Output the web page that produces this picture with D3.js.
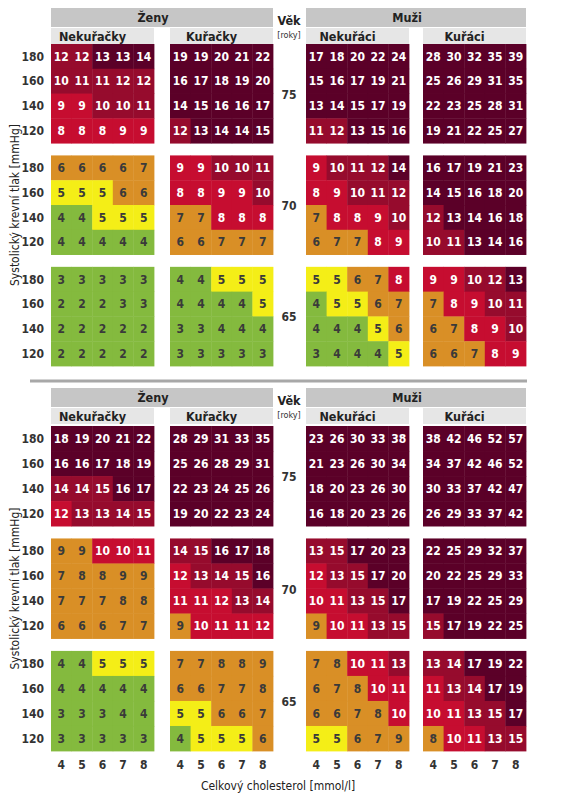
<!DOCTYPE html>
<html><head><meta charset="utf-8">
<script src="https://cdn.jsdelivr.net/npm/d3@7"></script>
<style>
body{margin:0;background:#fff;}
text{font-family:"DejaVu Sans",sans-serif;font-stretch:condensed;}
</style></head>
<body><svg id="c" width="572" height="800"></svg>
<script>
// ---------- data ----------
const ages = [75, 70, 65];
const sbp = [180, 160, 140, 120];
const chol = [4, 5, 6, 7, 8];
const sexes = ["Ženy", "Muži"];
const groups = ["Nekuřačky", "Kuřačky", "Nekuřáci", "Kuřáci"];
const colourBins = ["g", "y", "o", "r", "dr", "m"];
// thresholds for the colour classes (top panel, bottom panel)
const topThresholds = [5, 6, 8, 10, 13];
const bottomThresholds = [5, 6, 10, 13, 16];

// top panel — rows: age 75 (180..120), age 70, age 65; columns cholesterol 4..8
const topWomenNonSmokers = [
  [12,12,13,13,14],[10,11,11,12,12],[9,9,10,10,11],[8,8,8,9,9],
  [6,6,6,6,7],[5,5,5,6,6],[4,4,5,5,5],[4,4,4,4,4],
  [3,3,3,3,3],[2,2,2,3,3],[2,2,2,2,2],[2,2,2,2,2]];
const topWomenSmokers = [
  [19,19,20,21,22],[16,17,18,19,20],[14,15,16,16,17],[12,13,14,14,15],
  [9,9,10,10,11],[8,8,9,9,10],[7,7,8,8,8],[6,6,7,7,7],
  [4,4,5,5,5],[4,4,4,4,5],[3,3,4,4,4],[3,3,3,3,3]];
const topMenNonSmokers = [
  [17,18,20,22,24],[15,16,17,19,21],[13,14,15,17,19],[11,12,13,15,16],
  [9,10,11,12,14],[8,9,10,11,12],[7,8,8,9,10],[6,7,7,8,9],
  [5,5,6,7,8],[4,5,5,6,7],[4,4,4,5,6],[3,4,4,4,5]];
const topMenSmokers = [
  [28,30,32,35,39],[25,26,29,31,35],[22,23,25,28,31],[19,21,22,25,27],
  [16,17,19,21,23],[14,15,16,18,20],[12,13,14,16,18],[10,11,13,14,16],
  [9,9,10,12,13],[7,8,9,10,11],[6,7,8,9,10],[6,6,7,8,9]];

// bottom panel
const bottomWomenNonSmokers = [
  [18,19,20,21,22],[16,16,17,18,19],[14,14,15,16,17],[12,13,13,14,15],
  [9,9,10,10,11],[7,8,8,9,9],[7,7,7,8,8],[6,6,6,7,7],
  [4,4,5,5,5],[4,4,4,4,4],[3,3,3,4,4],[3,3,3,3,3]];
const bottomWomenSmokers = [
  [28,29,31,33,35],[25,26,28,29,31],[22,23,24,25,26],[19,20,22,23,24],
  [14,15,16,17,18],[12,13,14,15,16],[11,11,12,13,14],[9,10,11,11,12],
  [7,7,8,8,9],[6,6,7,7,8],[5,5,6,6,7],[4,5,5,5,6]];
const bottomMenNonSmokers = [
  [23,26,30,33,38],[21,23,26,30,34],[18,20,23,26,30],[16,18,20,23,26],
  [13,15,17,20,23],[12,13,15,17,20],[10,11,13,15,17],[9,10,11,13,15],
  [7,8,10,11,13],[6,7,8,10,11],[6,6,7,8,10],[5,5,6,7,9]];
const bottomMenSmokers = [
  [38,42,46,52,57],[34,37,42,46,52],[30,33,37,42,47],[26,29,33,37,42],
  [22,25,29,32,37],[20,22,25,29,33],[17,19,22,25,29],[15,17,19,22,25],
  [13,14,17,19,22],[11,13,14,17,19],[10,11,13,15,17],[8,10,11,13,15]];

const panels = [
  {blocks:[topWomenNonSmokers, topWomenSmokers, topMenNonSmokers, topMenSmokers], thr: topThresholds},
  {blocks:[bottomWomenNonSmokers, bottomWomenSmokers, bottomMenNonSmokers, bottomMenSmokers], thr: bottomThresholds}
];

// ---------- styling ----------
const palette = {g:"#84ba3e", y:"#f4ee17", o:"#d98f26", r:"#c60d30", dr:"#960b2d", m:"#5b0028"};
const darkText = new Set(["g","y","o"]);

const svg = d3.select("#c");
const blockLeft = d3.scaleOrdinal().domain(groups).range([51, 170, 306, 423]);
const blockW = 103;
const xCol = d3.scaleBand().domain(chol).range([0, blockW]);
const panelTop = [44, 426];
const panelBottom = [366, 751];
const headerTop = [8, 388];
const numFont = 12;

panels.forEach((p, pi) => {
  const yAge = d3.scaleBand().domain(ages).range([panelTop[pi], panelBottom[pi]]).paddingInner(0.11);
  const yRow = d3.scaleBand().domain(sbp).range([0, yAge.bandwidth()]);
  const cls = d3.scaleThreshold().domain(p.thr).range(colourBins);
  const g = svg.append("g");

  // headers
  const hT = headerTop[pi];
  sexes.forEach((s, si) => {
    const x0 = blockLeft(groups[si*2]), x1 = blockLeft(groups[si*2+1]) + blockW;
    g.append("rect").attr("x", x0).attr("y", hT).attr("width", x1-x0).attr("height", 19).attr("fill", "#c6c6c6");
    g.append("text").attr("x", (x0+x1)/2 - 9).attr("y", hT+14).attr("text-anchor","middle")
      .attr("font-size", 12.5).attr("font-weight", "bold").attr("fill", "#222").text(s);
  });
  groups.forEach(gr => {
    const x0 = blockLeft(gr);
    g.append("rect").attr("x", x0).attr("y", hT+20).attr("width", blockW).attr("height", 16).attr("fill", "#e6e6e6");
    g.append("text").attr("x", x0 + blockW/2 - 10).attr("y", hT+33).attr("text-anchor","middle")
      .attr("font-size", 12.5).attr("font-weight", "bold").attr("fill", "#222").text(gr);
  });
  g.append("text").attr("x", 289).attr("y", hT+17).attr("text-anchor","middle")
    .attr("font-size", 12.5).attr("font-weight","bold").attr("fill","#222").text("Věk");
  g.append("text").attr("x", 289).attr("y", hT+30).attr("text-anchor","middle")
    .attr("font-size", 9).attr("fill","#333").text("[roky]");

  // cells
  p.blocks.forEach((blk, bi) => {
    const x0 = blockLeft(groups[bi]);
    ages.forEach((age, ai) => {
      sbp.forEach((s, ri) => {
        chol.forEach((c, ci) => {
          const v = blk[ai*4 + ri][ci];
          const k = cls(v);
          const x = x0 + xCol(c), y = yAge(age) + yRow(s);
          g.append("rect").attr("x", x).attr("y", y)
            .attr("width", xCol.bandwidth()+0.4).attr("height", yRow.bandwidth()+0.4)
            .attr("fill", palette[k]);
          g.append("text").attr("x", x + xCol.bandwidth()/2).attr("y", y + yRow.bandwidth()/2 + 4.3)
            .attr("text-anchor","middle").attr("font-size", numFont).attr("font-weight", "bold")
            .attr("fill", darkText.has(k) ? "#3a3a3a" : "#fff").text(v);
        });
      });
    });
  });

  // row labels + age labels
  ages.forEach(age => {
    sbp.forEach(s => {
      g.append("text").attr("x", 44).attr("y", yAge(age) + yRow(s) + yRow.bandwidth()/2 + 4.3)
        .attr("text-anchor","end").attr("font-size", numFont).attr("font-weight","bold").attr("fill","#333").text(s);
    });
    g.append("text").attr("x", 289).attr("y", yAge(age) + yAge.bandwidth()/2 + 5)
      .attr("text-anchor","middle").attr("font-size", numFont).attr("font-weight","bold").attr("fill","#333").text(age);
  });

  // y axis title
  const cy = (panelTop[pi] + panelBottom[pi]) / 2;
  g.append("text").attr("transform", `translate(19,${cy}) rotate(-90)`).attr("text-anchor","middle")
    .attr("font-size", 12).attr("fill","#222").text("Systolický krevní tlak [mmHg]");
});

// separator
svg.append("line").attr("x1", 30).attr("x2", 527).attr("y1", 381).attr("y2", 381)
  .attr("stroke", "#a8a8a8").attr("stroke-width", 3);

// cholesterol axis
groups.forEach(gr => {
  chol.forEach(c => {
    svg.append("text").attr("x", blockLeft(gr) + xCol(c) + xCol.bandwidth()/2).attr("y", 769)
      .attr("text-anchor","middle").attr("font-size", numFont).attr("font-weight","bold").attr("fill","#333").text(c);
  });
});
svg.append("text").attr("x", 278).attr("y", 790).attr("text-anchor","middle")
  .attr("font-size", 12).attr("fill","#222").text("Celkový cholesterol [mmol/l]");
</script></body></html>
